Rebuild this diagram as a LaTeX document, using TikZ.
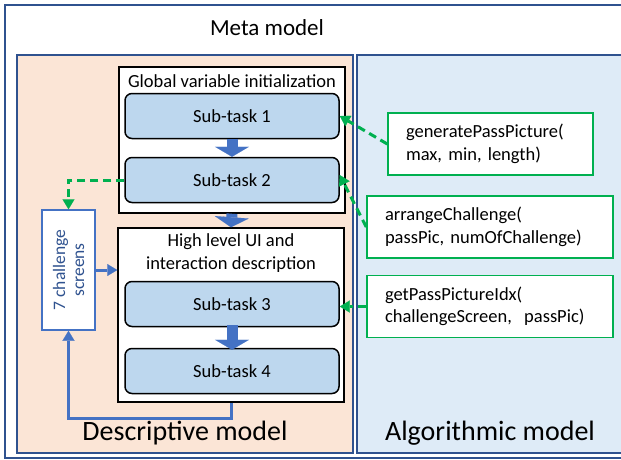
\documentclass[tikz,border=0pt]{standalone}
\usepackage{fontspec}
\setmainfont{Carlito}
\usetikzlibrary{arrows.meta,positioning,calc}

\definecolor{frameblue}{RGB}{47,82,143}
\definecolor{peach}{RGB}{251,229,214}
\definecolor{algoblue}{RGB}{222,235,247}
\definecolor{taskblue}{RGB}{189,215,238}
\definecolor{blockblue}{RGB}{68,114,196}
\definecolor{apigreen}{RGB}{0,176,80}

\begin{document}
\begin{tikzpicture}[x=1pt, y=-1pt,
	frame/.style = {draw=frameblue, line width=1.2pt},
	group/.style = {draw=black, line width=1.5pt, fill=white, minimum width=226pt},
	subtask/.style = {draw=black, line width=1.5pt, rounded corners=7pt, fill=taskblue, minimum width=214pt, minimum height=45pt, font=\fontsize{18.5}{22}\selectfont},
	api/.style = {draw=apigreen, line width=1.5pt, fill=white, align=left, inner xsep=18pt, minimum height=62pt, font=\fontsize{18.5}{22.5}\selectfont},
	screenbox/.style = {draw=blockblue, line width=1.5pt, fill=white, rotate=90, minimum width=120pt, minimum height=53pt, align=center, text=frameblue, font=\fontsize{17.5}{19}\selectfont},
	title/.style = {align=center, font=\fontsize{18.5}{23}\selectfont},
	modellabel/.style = {font=\fontsize{28}{32}\selectfont},
	blockarrow/.style = {draw=blockblue, line width=11pt, -{Triangle[width=34pt,length=10pt,line width=0.1pt]}},
	bluearrow/.style = {draw=blockblue, line width=3pt, -{Triangle[width=12pt,length=10pt,line width=0.1pt]}},
	greenarrow/.style = {draw=apigreen, line width=3pt, dash pattern=on 8pt off 5pt, -{Triangle[width=12pt,length=10pt,line width=0.1pt]}},
	]
	\useasboundingbox (0,0) rectangle (621,459);
	\clip (0,0) rectangle (621,459);
	% model frames
	\draw[frame, fill=white] (5,5) rectangle (640,458);
	\draw[frame, fill=peach] (17,55) rectangle (353,453);
	\draw[frame, fill=algoblue] (357,55) rectangle (640,453);
	\node[modellabel, font=\fontsize{23}{28}\selectfont] (meta) at (267,28) {Meta model};
	\node[modellabel] (desc) at (185,433) {Descriptive model};
	\node[modellabel] (algo) at (490,433) {Algorithmic model};

	% descriptive part
	\node[group, minimum height=146pt] (glob) at (232,140) {};
	\node[title] (globtitle) at (232,81) {Global variable initialization};
	\node[subtask] (st1) at (232,116) {Sub-task 1};
	\node[subtask] (st2) at (232,180) {Sub-task 2};

	\node[group, minimum height=174pt] (high) at (231,315) {};
	\node[title] (hightitle) at (231,253) {High level UI and\\interaction description};
	\node[subtask] (st3) at (232,304) {Sub-task 3};
	\node[subtask] (st4) at (232,371) {Sub-task 4};

	\node[screenbox] (screens) at (68.5,270) {7 challenge\\screens};

	\draw[blockarrow] (st1.south) -- (st2.north);
	\draw[blockarrow] (glob.south) -- (high.north);
	\draw[blockarrow] ([yshift=2pt]st3.south) -- ([yshift=-2pt]st4.north);

	\draw[bluearrow] (screens.south) -- (screens.south -| high.west);
	\draw[bluearrow] (high.south) -- ++(0,16) -| (screens.west);
	\draw[greenarrow] (st2.west) -| (screens.east);

	% algorithmic part
	\node[api, text width=169pt] (gen) at (490.5,144) {generatePassPicture(\\max, min, length)};
	\node[api, text width=210pt] (arr) at (490,227) {arrangeChallenge(\\passPic, numOfChallenge)};
	\node[api, text width=210pt] (get) at (490,306.5) {getPassPictureIdx(\\challengeScreen,~ passPic)};

	\draw[greenarrow] (gen.west) -- (st1.east);
	\draw[greenarrow] (arr.west) -- ([yshift=5pt]st2.east);
	\draw[greenarrow] (get.west) -- (get.west -| st3.east);
\end{tikzpicture}
\end{document}
